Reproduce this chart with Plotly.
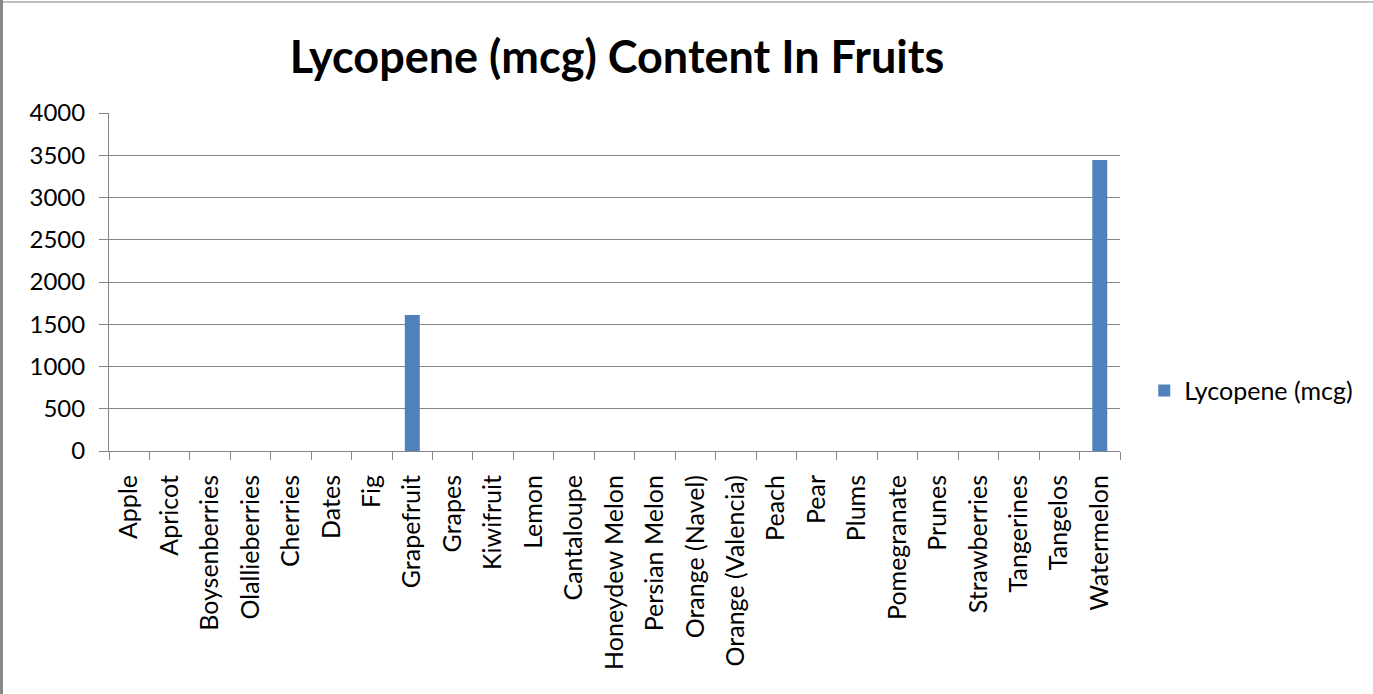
import plotly.graph_objects as go

fruits = ["Apple", "Apricot", "Boysenberries", "Olallieberries", "Cherries", "Dates", "Fig",
          "Grapefruit", "Grapes", "Kiwifruit", "Lemon", "Cantaloupe", "Honeydew Melon",
          "Persian Melon", "Orange (Navel)", "Orange (Valencia)", "Peach", "Pear", "Plums",
          "Pomegranate", "Prunes", "Strawberries", "Tangerines", "Tangelos", "Watermelon"]
lycopene = [0, 0, 0, 0, 0, 0, 0, 1610, 0, 0, 0, 0, 0, 0, 0, 0, 0, 0, 0, 0, 0, 0, 0, 0, 3445]
y_ticks = [0, 500, 1000, 1500, 2000, 2500, 3000, 3500, 4000]

FONT = "Lato"
GRID = "#868686"
W, H = 1373, 694
L, R, T, B = 109, 253, 113, 243
PW, PH = W - L - R, H - T - B

fig = go.Figure()
fig.add_trace(go.Bar(
    x=fruits, y=lycopene, name="Lycopene (mcg)",
    marker=dict(color="#4f81bd", line=dict(width=0)),
    width=0.37,
))

fig.update_layout(
    width=W, height=H,
    paper_bgcolor="white", plot_bgcolor="white",
    margin=dict(l=L, r=R, t=T, b=B),
    font=dict(family=FONT, size=24, color="#000000"),
    title=dict(text="<b>Lycopene (mcg) Content In Fruits</b>",
               font=dict(family=FONT, size=45, color="#000000"),
               x=(617 - L) / PW, xref="paper", xanchor="center",
               y=1 - 57 / H, yanchor="middle"),
    showlegend=True,
    legend=dict(x=1.024, xanchor="left", y=0.178, yanchor="middle",
                font=dict(family=FONT, size=25), itemwidth=30,
                bgcolor="rgba(0,0,0,0)"),
)

fig.update_xaxes(
    type="category", tickangle=-90, tickson="boundaries",
    ticks="outside", ticklen=8, tickcolor=GRID, tickwidth=1,
    showline=True, linecolor=GRID, linewidth=1,
    showgrid=False, tickfont=dict(family=FONT, size=25),
    ticklabelstandoff=13,
)
fig.update_yaxes(
    range=[0, 4000], tickvals=y_ticks,
    ticks="outside", ticklen=9, tickcolor=GRID, tickwidth=1,
    showline=True, linecolor=GRID, linewidth=1,
    showgrid=True, gridcolor=GRID, gridwidth=1,
    tickfont=dict(family=FONT, size=24), zeroline=False,
    ticklabelstandoff=9,
)

# outer chart frame (left and top edges)
fig.add_shape(type="line", xref="paper", yref="paper",
              x0=(1.5 - L) / PW, x1=(1.5 - L) / PW,
              y0=-B / PH, y1=(H - B) / PH,
              line=dict(color="#888888", width=3))
fig.add_shape(type="line", xref="paper", yref="paper",
              x0=(3 - L) / PW, x1=(W - L) / PW,
              y0=(H - B - 2) / PH, y1=(H - B - 2) / PH,
              line=dict(color="#808080", width=1))

fig.write_html("out.html", config={"displayModeBar": False},
               post_script="document.body.style.margin='0';")
